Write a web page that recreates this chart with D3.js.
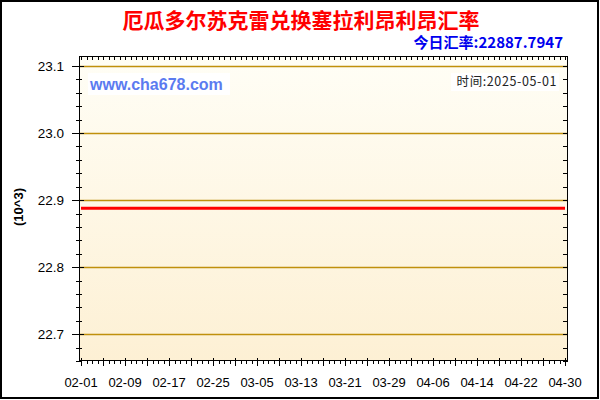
<!DOCTYPE html>
<html><head><meta charset="utf-8">
<script src="https://cdn.jsdelivr.net/npm/d3@7"></script>
<style>body{margin:0;background:#fff}svg{display:block}</style>
</head><body>
<svg id="c" width="600" height="400"></svg>
<script>
const titleText = "厄瓜多尔苏克雷兑换塞拉利昂利昂汇率";
const rateText = "今日汇率:22887.7947";
const siteText = "www.cha678.com";
const timeText = "时间:2025-05-01";
const unitText = "(10^3)";
const dates = ["2025-02-01","2025-02-09","2025-02-17","2025-02-25","2025-03-05","2025-03-13","2025-03-21","2025-03-29","2025-04-06","2025-04-14","2025-04-22","2025-04-30"];
const rates = [22.8878,22.8878,22.8878,22.8878,22.8878,22.8878,22.8878,22.8878,22.8878,22.8878,22.8878,22.8878];
const yTicks = [22.7,22.8,22.9,23.0,23.1];
const yDomain = [22.66, 23.115];

const svg = d3.select("#c");
const parse = d3.timeParse("%Y-%m-%d");
const L=79, R=568, T=56, B=361;
const x = d3.scaleTime().domain([parse(dates[0]), parse(dates[dates.length-1])]).range([81,565]);
const y = d3.scaleLinear().domain(yDomain).range([B,T]);

svg.append("rect").attr("x",1).attr("y",1).attr("width",597).attr("height",397).attr("fill","#fff").attr("stroke","#000").attr("stroke-width",2);

const defs = svg.append("defs");
const g = defs.append("linearGradient").attr("id","bg").attr("x1",0).attr("y1",0).attr("x2",0).attr("y2",1);
g.append("stop").attr("offset","0%").attr("stop-color","#fffef6");
g.append("stop").attr("offset","100%").attr("stop-color","#fdf0d4");
svg.append("rect").attr("x",L).attr("y",T).attr("width",R-L).attr("height",B-T).attr("fill","url(#bg)");

svg.append("g").selectAll("line").data(yTicks).join("line")
  .attr("x1",L).attr("x2",R).attr("y1",d=>Math.round(y(d))+0.5).attr("y2",d=>Math.round(y(d))+0.5)
  .attr("stroke","#c0900c").attr("stroke-width",1.3);

svg.append("rect").attr("x",88).attr("y",73).attr("width",142).attr("height",22).attr("fill","#fff");
svg.append("text").attr("x",90).attr("y",90).text(siteText)
  .attr("font-family","Arial, 'Liberation Sans', sans-serif").attr("font-weight","bold").attr("font-size",16).attr("fill","#5b7bf0");
svg.append("rect").attr("x",451).attr("y",73).attr("width",108).attr("height",18).attr("fill","#fff");
svg.append("text").attr("x",557).attr("y",86).attr("text-anchor","end").text(timeText)
  .attr("font-family","'Noto Sans CJK SC', 'Liberation Sans', sans-serif").attr("font-size",12.5).attr("letter-spacing",0.6).attr("fill","#222");

const line = d3.line().x((d,i)=>x(parse(dates[i]))).y(d=>y(d));
svg.append("path").datum(rates).attr("d",line).attr("fill","none").attr("stroke","#ff0000").attr("stroke-width",3);

svg.append("rect").attr("x",L+0.5).attr("y",T+0.5).attr("width",R-L-1).attr("height",B-T-1).attr("fill","none").attr("stroke","#000").attr("stroke-width",1);

const days = d3.timeDay.range(parse(dates[0]), d3.timeDay.offset(parse(dates[dates.length-1]),1));
const tk = svg.append("g").attr("stroke","#000").attr("stroke-width",1);
days.forEach((d,i)=>{
  const xx = Math.round(x(d))+0.5;
  const major = i%4===0;
  tk.append("line").attr("x1",xx).attr("x2",xx).attr("y1",B-(major?3:1)).attr("y2",B+(major?5:3));
  tk.append("line").attr("x1",xx).attr("x2",xx).attr("y1",T).attr("y2",T+4);
});
const minorY = d3.range(22.66, 23.115, 0.02);
minorY.forEach(v=>{
  const yy = Math.round(y(v))+0.5;
  const major = yTicks.some(t=>Math.abs(t-v)<1e-6);
  tk.append("line").attr("x1",major?72:76).attr("x2",major?84:82).attr("y1",yy).attr("y2",yy);
  tk.append("line").attr("x1",R-5).attr("x2",R).attr("y1",yy).attr("y2",yy);
});

svg.append("g").selectAll("text").data(yTicks).join("text")
  .attr("x",64).attr("y",d=>y(d)+5).attr("text-anchor","end").text(d=>d.toFixed(1))
  .attr("font-family","Arial, 'Liberation Sans', sans-serif").attr("font-size",13.5).attr("fill","#000");
svg.append("g").selectAll("text").data(dates).join("text")
  .attr("x",d=>x(parse(d))).attr("y",387).attr("text-anchor","middle").text(d=>d3.timeFormat("%m-%d")(parse(d)))
  .attr("font-family","Arial, 'Liberation Sans', sans-serif").attr("font-size",13).attr("fill","#000");

svg.append("text").attr("x",301).attr("y",28).attr("text-anchor","middle").text(titleText)
  .attr("font-family","'Noto Sans CJK SC', sans-serif").attr("font-weight","bold").attr("font-size",21).attr("fill","#ff0000");
svg.append("text").attr("x",563).attr("y",48).attr("text-anchor","end").text(rateText)
  .attr("font-family","'Noto Sans CJK SC', 'Liberation Sans', sans-serif").attr("font-weight","bold").attr("font-size",15).attr("fill","#0000ee");
svg.append("text").attr("transform","translate(23,207) rotate(-90)").attr("text-anchor","middle").text(unitText)
  .attr("font-family","Arial, 'Liberation Sans', sans-serif").attr("font-weight","bold").attr("font-size",13).attr("fill","#000");
</script>
</body></html>
